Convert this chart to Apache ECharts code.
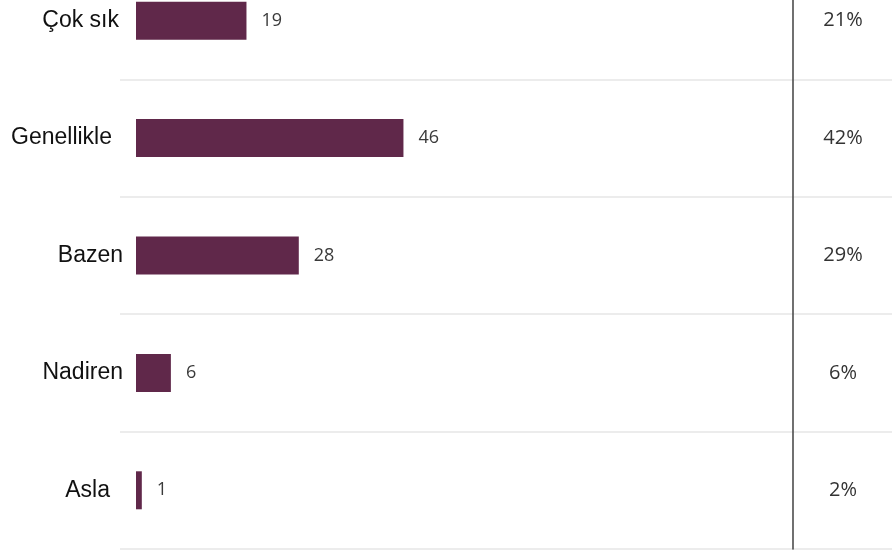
<!DOCTYPE html>
<html>
<head>
<meta charset="utf-8">
<script src="https://cdn.jsdelivr.net/npm/echarts@6/dist/echarts.min.js"></script>
<style>html,body{margin:0;padding:0;background:#fff}#c{width:895px;height:550px}</style>
</head>
<body>
<div id="c"></div>
<script>
const categories = ['Çok sık', 'Genellikle', 'Bazen', 'Nadiren', 'Asla'];
const counts = [19, 46, 28, 6, 1];
const percentLabels = ['21%', '42%', '29%', '6%', '2%'];

// visual label tweaks (right padding per category label)
const labelPadRight = [4, 11, 0, 0, 13];

const chart = echarts.init(document.getElementById('c'), null, {renderer: 'canvas'});
const option = {
  animation: false,
  backgroundColor: '#ffffff',
  grid: [
    {left: 136, right: 102, top: -38, bottom: 1, outerBoundsMode: 'none', containLabel: false},
    {left: 120, right: 3, top: -38, bottom: 1, outerBoundsMode: 'none', containLabel: false}
  ],
  xAxis: [
    {gridIndex: 0, type: 'value', min: 0, max: 113, show: false},
    {gridIndex: 1, type: 'value', min: 0, max: 1, show: false}
  ],
  yAxis: [
    {
      gridIndex: 0, type: 'category', inverse: true, position: 'left',
      data: categories.map((c, i) => ({
        value: c,
        textStyle: {padding: [0, labelPadRight[i], 6, 0]}
      })),
      axisLine: {show: false}, axisTick: {show: false}, splitLine: {show: false},
      axisLabel: {margin: 13, color: '#111', fontSize: 23, fontFamily: 'Liberation Sans, Arial, sans-serif'}
    },
    {
      gridIndex: 0, type: 'category', inverse: true, position: 'right',
      data: percentLabels,
      axisLine: {show: true, lineStyle: {color: '#4d4d4d', width: 1.6}},
      axisTick: {show: false}, splitLine: {show: false},
      axisLabel: {margin: 50, align: 'center', color: '#333', fontSize: 20, fontFamily: 'Open Sans, sans-serif'}
    },
    {
      gridIndex: 1, type: 'category', inverse: true,
      data: categories,
      axisLine: {show: false}, axisTick: {show: false}, axisLabel: {show: false},
      splitLine: {show: true, lineStyle: {color: '#ececec', width: 2}}
    }
  ],
  series: [
    {
      type: 'bar', xAxisIndex: 0, yAxisIndex: 0,
      data: counts,
      barWidth: 38,
      itemStyle: {color: '#60284a'},
      label: {show: true, position: 'right', distance: 15, color: '#3a3a3a', fontSize: 18, fontFamily: 'Open Sans, sans-serif'}
    }
  ]
};
chart.setOption(option);
</script>
</body>
</html>
